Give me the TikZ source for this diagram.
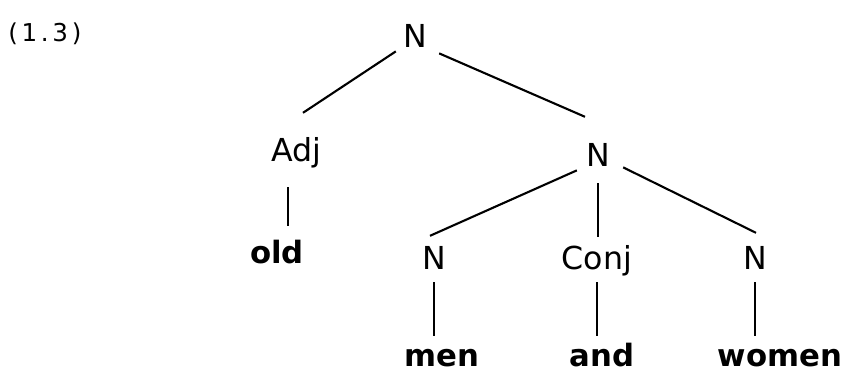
\documentclass[tikz,border=0pt]{standalone}
\usepackage{fontspec}
\setmainfont{DejaVu Sans}
\newfontfamily\exfont[LetterSpace=15]{DejaVu Sans}
\usetikzlibrary{positioning}

\begin{document}
\begin{tikzpicture}[x=0.02cm, y=-0.02cm,
  cat/.style={inner sep=0pt, anchor=base, text height=13pt, text depth=4pt, font=\fontsize{18}{20}\selectfont},
  word/.style={inner sep=0pt, anchor=base, text height=13pt, text depth=0pt, font=\fontsize{17.5}{20}\selectfont\bfseries},
  branch/.style={line width=1.2pt},
  stem/.style={line width=1.2pt, shorten <=0.1cm, shorten >=0.14cm}]
  \useasboundingbox (0,0) rectangle (845,371);
  \node[anchor=base west, inner sep=0pt, font=\exfont\fontsize{14}{16}\selectfont] (ex) at (8,42) {(1.3)};
  \node[cat] (n) at (415,48) {N};
  \node[cat] (adj) at (296,162) {Adj};
  \node[cat] (nm) at (598,167) {N};
  \node[word] (old) at (277,263) {old};
  \node[cat] (nl) at (434,270) {N};
  \node[cat] (conj) at (597,270) {Conj};
  \node[cat] (nr) at (755,270) {N};
  \node[word] (men) at (442,366) {men};
  \node[word] (and) at (602,366) {and};
  \node[word] (women) at (780,366) {women};
  \draw[branch] ([shift={(-7,-4)}]n.south west) -- ([shift={(7,-26)}]adj.north);
  \draw[branch] ([shift={(12,-2)}]n.south east) -- ([shift={(-13,-27)}]nm.north);
  \draw[branch] ([shift={(-9,-4)}]nm.south west) -- ([shift={(-4,-11)}]nl.north);
  \draw[branch] ([shift={(13,-7)}]nm.south east) -- ([shift={(1,-14)}]nr.north);
  \draw[branch, shorten <=0.18cm, shorten >=0.2cm] (nm.south) -- (nm.south |- conj.north);
  \draw[branch, shorten <=0.36cm, shorten >=0.28cm] ([xshift=-0.16cm]adj.south) -- ([xshift=-0.16cm]adj.south |- old.north);
  \draw[stem] (nl.south) -- (nl.south |- men.north);
  \draw[stem] (conj.south) -- (conj.south |- and.north);
  \draw[stem] (nr.south) -- (nr.south |- women.north);
\end{tikzpicture}
\end{document}
